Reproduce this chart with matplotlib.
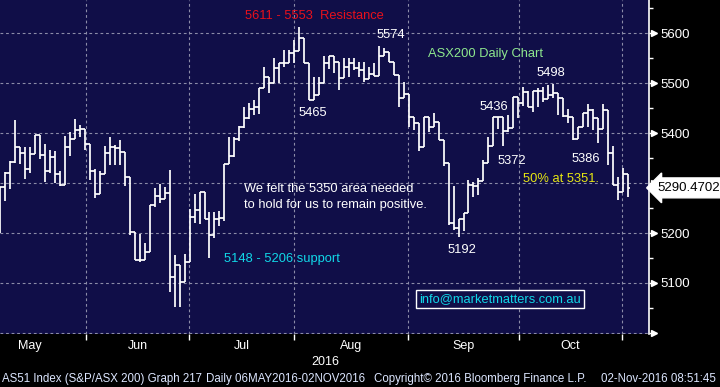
import matplotlib
matplotlib.use('Agg')
import matplotlib.pyplot as plt

# daily OHLC bars, AS51 index, 06 May 2016 - 02 Nov 2016
opens = [5210, 5292, 5321, 5343, 5373, 5361, 5329, 5358, 5397, 5356,
         5324, 5352, 5318, 5296, 5372, 5388, 5406, 5408, 5379, 5325,
         5278, 5318, 5360, 5372, 5370, 5362, 5312, 5202, 5145, 5145,
         5162, 5256, 5274, 5269, 5280, 5112, 5136, 5102, 5142, 5232,
         5247, 5282, 5229, 5196, 5228, 5230, 5338, 5354, 5389, 5413,
         5430, 5448, 5452, 5490, 5513, 5500, 5530, 5540, 5540, 5561,
         5565, 5590, 5541, 5467, 5477, 5500, 5540, 5555, 5543, 5510,
         5533, 5540, 5530, 5527, 5508, 5518, 5515, 5555, 5563, 5543,
         5517, 5470, 5479, 5433, 5420, 5373, 5432, 5413, 5423, 5387,
         5340, 5220, 5210, 5228, 5240, 5297, 5295, 5305, 5340, 5375,
         5433, 5433, 5405, 5410, 5473, 5460, 5483, 5453, 5485, 5485,
         5468, 5477, 5480, 5471, 5435, 5433, 5388, 5413, 5440, 5447,
         5430, 5408, 5447, 5360, 5297, 5283, 5318]
highs = [5293, 5323, 5344, 5427, 5373, 5373, 5373, 5397, 5397, 5379,
         5367, 5365, 5325, 5395, 5402, 5429, 5417, 5408, 5379, 5328,
         5325, 5374, 5393, 5377, 5387, 5362, 5312, 5202, 5199, 5179,
         5256, 5291, 5299, 5292, 5327, 5155, 5136, 5157, 5248, 5279,
         5282, 5282, 5243, 5243, 5245, 5338, 5393, 5393, 5414, 5452,
         5460, 5466, 5490, 5532, 5513, 5550, 5540, 5567, 5567, 5587,
         5613, 5590, 5541, 5512, 5512, 5555, 5555, 5555, 5543, 5550,
         5550, 5550, 5543, 5543, 5533, 5540, 5575, 5570, 5563, 5543,
         5517, 5503, 5479, 5433, 5420, 5432, 5432, 5441, 5423, 5387,
         5340, 5295, 5228, 5240, 5307, 5303, 5310, 5347, 5393, 5433,
         5433, 5433, 5437, 5473, 5473, 5492, 5485, 5485, 5490, 5493,
         5497, 5499, 5480, 5471, 5448, 5433, 5413, 5440, 5458, 5448,
         5430, 5458, 5447, 5375, 5313, 5330, 5318]
lows = [5201, 5265, 5289, 5340, 5339, 5309, 5321, 5358, 5349, 5303,
        5321, 5300, 5295, 5296, 5355, 5388, 5393, 5367, 5307, 5271,
        5278, 5318, 5337, 5337, 5337, 5295, 5197, 5145, 5141, 5145,
        5162, 5253, 5260, 5269, 5081, 5051, 5051, 5102, 5142, 5221,
        5219, 5229, 5149, 5190, 5215, 5225, 5338, 5352, 5385, 5410,
        5428, 5437, 5439, 5490, 5480, 5500, 5500, 5533, 5540, 5540,
        5565, 5541, 5467, 5467, 5477, 5500, 5528, 5520, 5487, 5510,
        5513, 5527, 5513, 5503, 5508, 5515, 5515, 5555, 5543, 5517,
        5453, 5470, 5413, 5407, 5365, 5372, 5403, 5413, 5387, 5335,
        5217, 5207, 5193, 5205, 5240, 5272, 5277, 5305, 5340, 5375,
        5408, 5375, 5403, 5410, 5430, 5455, 5453, 5443, 5453, 5463,
        5468, 5470, 5437, 5433, 5420, 5387, 5388, 5413, 5413, 5407,
        5380, 5408, 5337, 5297, 5267, 5283, 5273]
closes = [5292, 5321, 5343, 5373, 5361, 5329, 5358, 5397, 5356, 5324,
          5352, 5318, 5296, 5372, 5388, 5406, 5408, 5379, 5325, 5278,
          5318, 5360, 5372, 5370, 5362, 5312, 5202, 5145, 5145, 5162,
          5256, 5274, 5269, 5280, 5112, 5136, 5102, 5142, 5232, 5247,
          5282, 5229, 5196, 5228, 5230, 5338, 5354, 5389, 5413, 5430,
          5448, 5452, 5490, 5513, 5500, 5530, 5540, 5540, 5561, 5565,
          5590, 5541, 5467, 5477, 5500, 5540, 5555, 5543, 5510, 5533,
          5540, 5530, 5527, 5508, 5518, 5515, 5555, 5563, 5543, 5517,
          5470, 5479, 5433, 5420, 5373, 5432, 5413, 5423, 5387, 5340,
          5220, 5210, 5228, 5240, 5297, 5295, 5305, 5340, 5375, 5433,
          5433, 5405, 5410, 5473, 5460, 5483, 5453, 5485, 5485, 5468,
          5477, 5480, 5471, 5435, 5433, 5388, 5413, 5440, 5447, 5430,
          5408, 5447, 5360, 5297, 5283, 5318, 5290.4702]

months = ['May', 'Jun', 'Jul', 'Aug', 'Sep', 'Oct']
month_edges = [-5.2, 17.2, 37.9, 59.0, 81.9, 104.2, 124.8]  # in bar units
price_ticks = [5000, 5100, 5200, 5300, 5400, 5500, 5600]
price_labels = ['', '5100', '5200', '', '5400', '5500', '5600']

NAVY = '#100e48'
GRID = '#8c8ca8'
W, H = 720, 387

fig = plt.figure(figsize=(7.2, 3.87), dpi=100, facecolor='black')
ax = fig.add_axes([0, 1 - 334.3 / H, 649.3 / W, 334.3 / H])
ax.set_facecolor(NAVY)


def px(x, y):
    return x / W, 1 - y / H


idx = list(range(len(closes)))
ax.vlines(idx, lows, highs, color='white', lw=1.25)
ax.hlines(opens, [i - 0.5 for i in idx], idx, color='white', lw=1.25)
ax.hlines(closes, idx, [i + 0.5 for i in idx], color='white', lw=1.25)

ax.set_xlim(-0.06, 130.3)
ax.set_ylim(4997, 5667)

# grid
for e in month_edges[1:]:
    ax.axvline(e, color=GRID, lw=0.8, ls=(0, (2.5, 2.5)), zorder=0)
for p in price_ticks:
    ax.axhline(p, color=GRID, lw=0.8, ls=(0, (2.5, 2.5)), zorder=0)

for s in ['left', 'top', 'bottom']:
    ax.spines[s].set_visible(False)
ax.spines['right'].set_color('white')
ax.spines['right'].set_linewidth(1.2)

# x axis: month ticks and labels
ax.set_xticks(month_edges[1:])
ax.set_xticklabels([])
ax.tick_params(axis='x', colors='white', length=4, width=1, direction='out')
for m, a, b in zip(months, month_edges[:-1], month_edges[1:]):
    ax.text((a + b) / 2, -0.035, m, transform=ax.get_xaxis_transform(),
            ha='center', va='center', color='white', fontsize=9,
            family='Liberation Sans')
fig.text(*px(325, 362), '2016', ha='center', va='center', color='white',
         fontsize=9, family='Liberation Sans')

# y axis on the right
ax.yaxis.tick_right()
ax.set_yticks(price_ticks)
ax.set_yticklabels(price_labels)
ax.set_yticks([5050, 5150, 5250, 5350, 5450, 5550, 5650], minor=True)
ax.tick_params(axis='y', which='major', colors='white', length=5, width=1,
               pad=3, labelsize=9.5)
ax.tick_params(axis='y', which='minor', colors='white', length=3, width=1)
for t in ax.get_yticklabels():
    t.set_family('Liberation Sans')
ax.plot([1.008] * len(price_ticks), price_ticks, marker='>', ls='none',
        color='white', ms=4, transform=ax.get_yaxis_transform(), clip_on=False)

# last price tag
ax.text(1.013, closes[-1], '5290.4702', transform=ax.get_yaxis_transform(),
        ha='left', va='center', color='black', fontsize=9.5,
        family='Liberation Sans',
        bbox=dict(boxstyle='larrow,pad=0.3', fc='white', ec='white'))

# annotations
fs = 9.3
fam = 'Liberation Sans'
fig.text(*px(245, 16), '5611 - 5553  Resistance', color='#e8101c', fontsize=fs,
         family=fam, va='center')
fig.text(*px(377, 35), '5574', color='white', fontsize=fs, family=fam, va='center')
fig.text(*px(428, 54), 'ASX200 Daily Chart', color='#8ee88e', fontsize=fs,
         family=fam, va='center')
fig.text(*px(537, 73), '5498', color='white', fontsize=fs, family=fam, va='center')
fig.text(*px(299, 113), '5465', color='white', fontsize=fs, family=fam, va='center')
fig.text(*px(480, 107), '5436', color='white', fontsize=fs, family=fam, va='center')
fig.text(*px(498, 161), '5372', color='white', fontsize=fs, family=fam, va='center')
fig.text(*px(572, 159), '5386', color='white', fontsize=fs, family=fam, va='center')
fig.text(*px(523, 179), '50% at 5351.', color='#e8e810', fontsize=fs,
         family=fam, va='center')
fig.text(*px(244, 189), 'We felt the 5350 area needed', color='white',
         fontsize=fs, family=fam, va='center')
fig.text(*px(244, 205), 'to hold for us to remain positive.', color='white',
         fontsize=fs, family=fam, va='center')
fig.text(*px(224, 259), '5148 - 5206 support', color='#10d8e8', fontsize=fs,
         family=fam, va='center')
fig.text(*px(448, 250), '5192', color='white', fontsize=fs, family=fam, va='center')
fig.text(*px(419, 299), 'info@marketmatters.com.au', color='#10d8e8',
         fontsize=fs, family=fam, va='center',
         bbox=dict(boxstyle='square,pad=0.25', fc=NAVY, ec='white', lw=1))

# footer
foot = dict(color='#dce6ff', fontsize=8.3, family=fam, va='center')
fig.text(*px(2, 379), 'AS51 Index (S&P/ASX 200) Graph 217', **foot)
fig.text(*px(206, 379), 'Daily 06MAY2016-02NOV2016', **foot)
fig.text(*px(374, 379), 'Copyright\u00a9 2016 Bloomberg Finance L.P.', **foot)
fig.text(*px(601, 379), '02-Nov-2016 08:51:45', **foot)

fig.savefig('out.png', dpi=100, facecolor='black')
